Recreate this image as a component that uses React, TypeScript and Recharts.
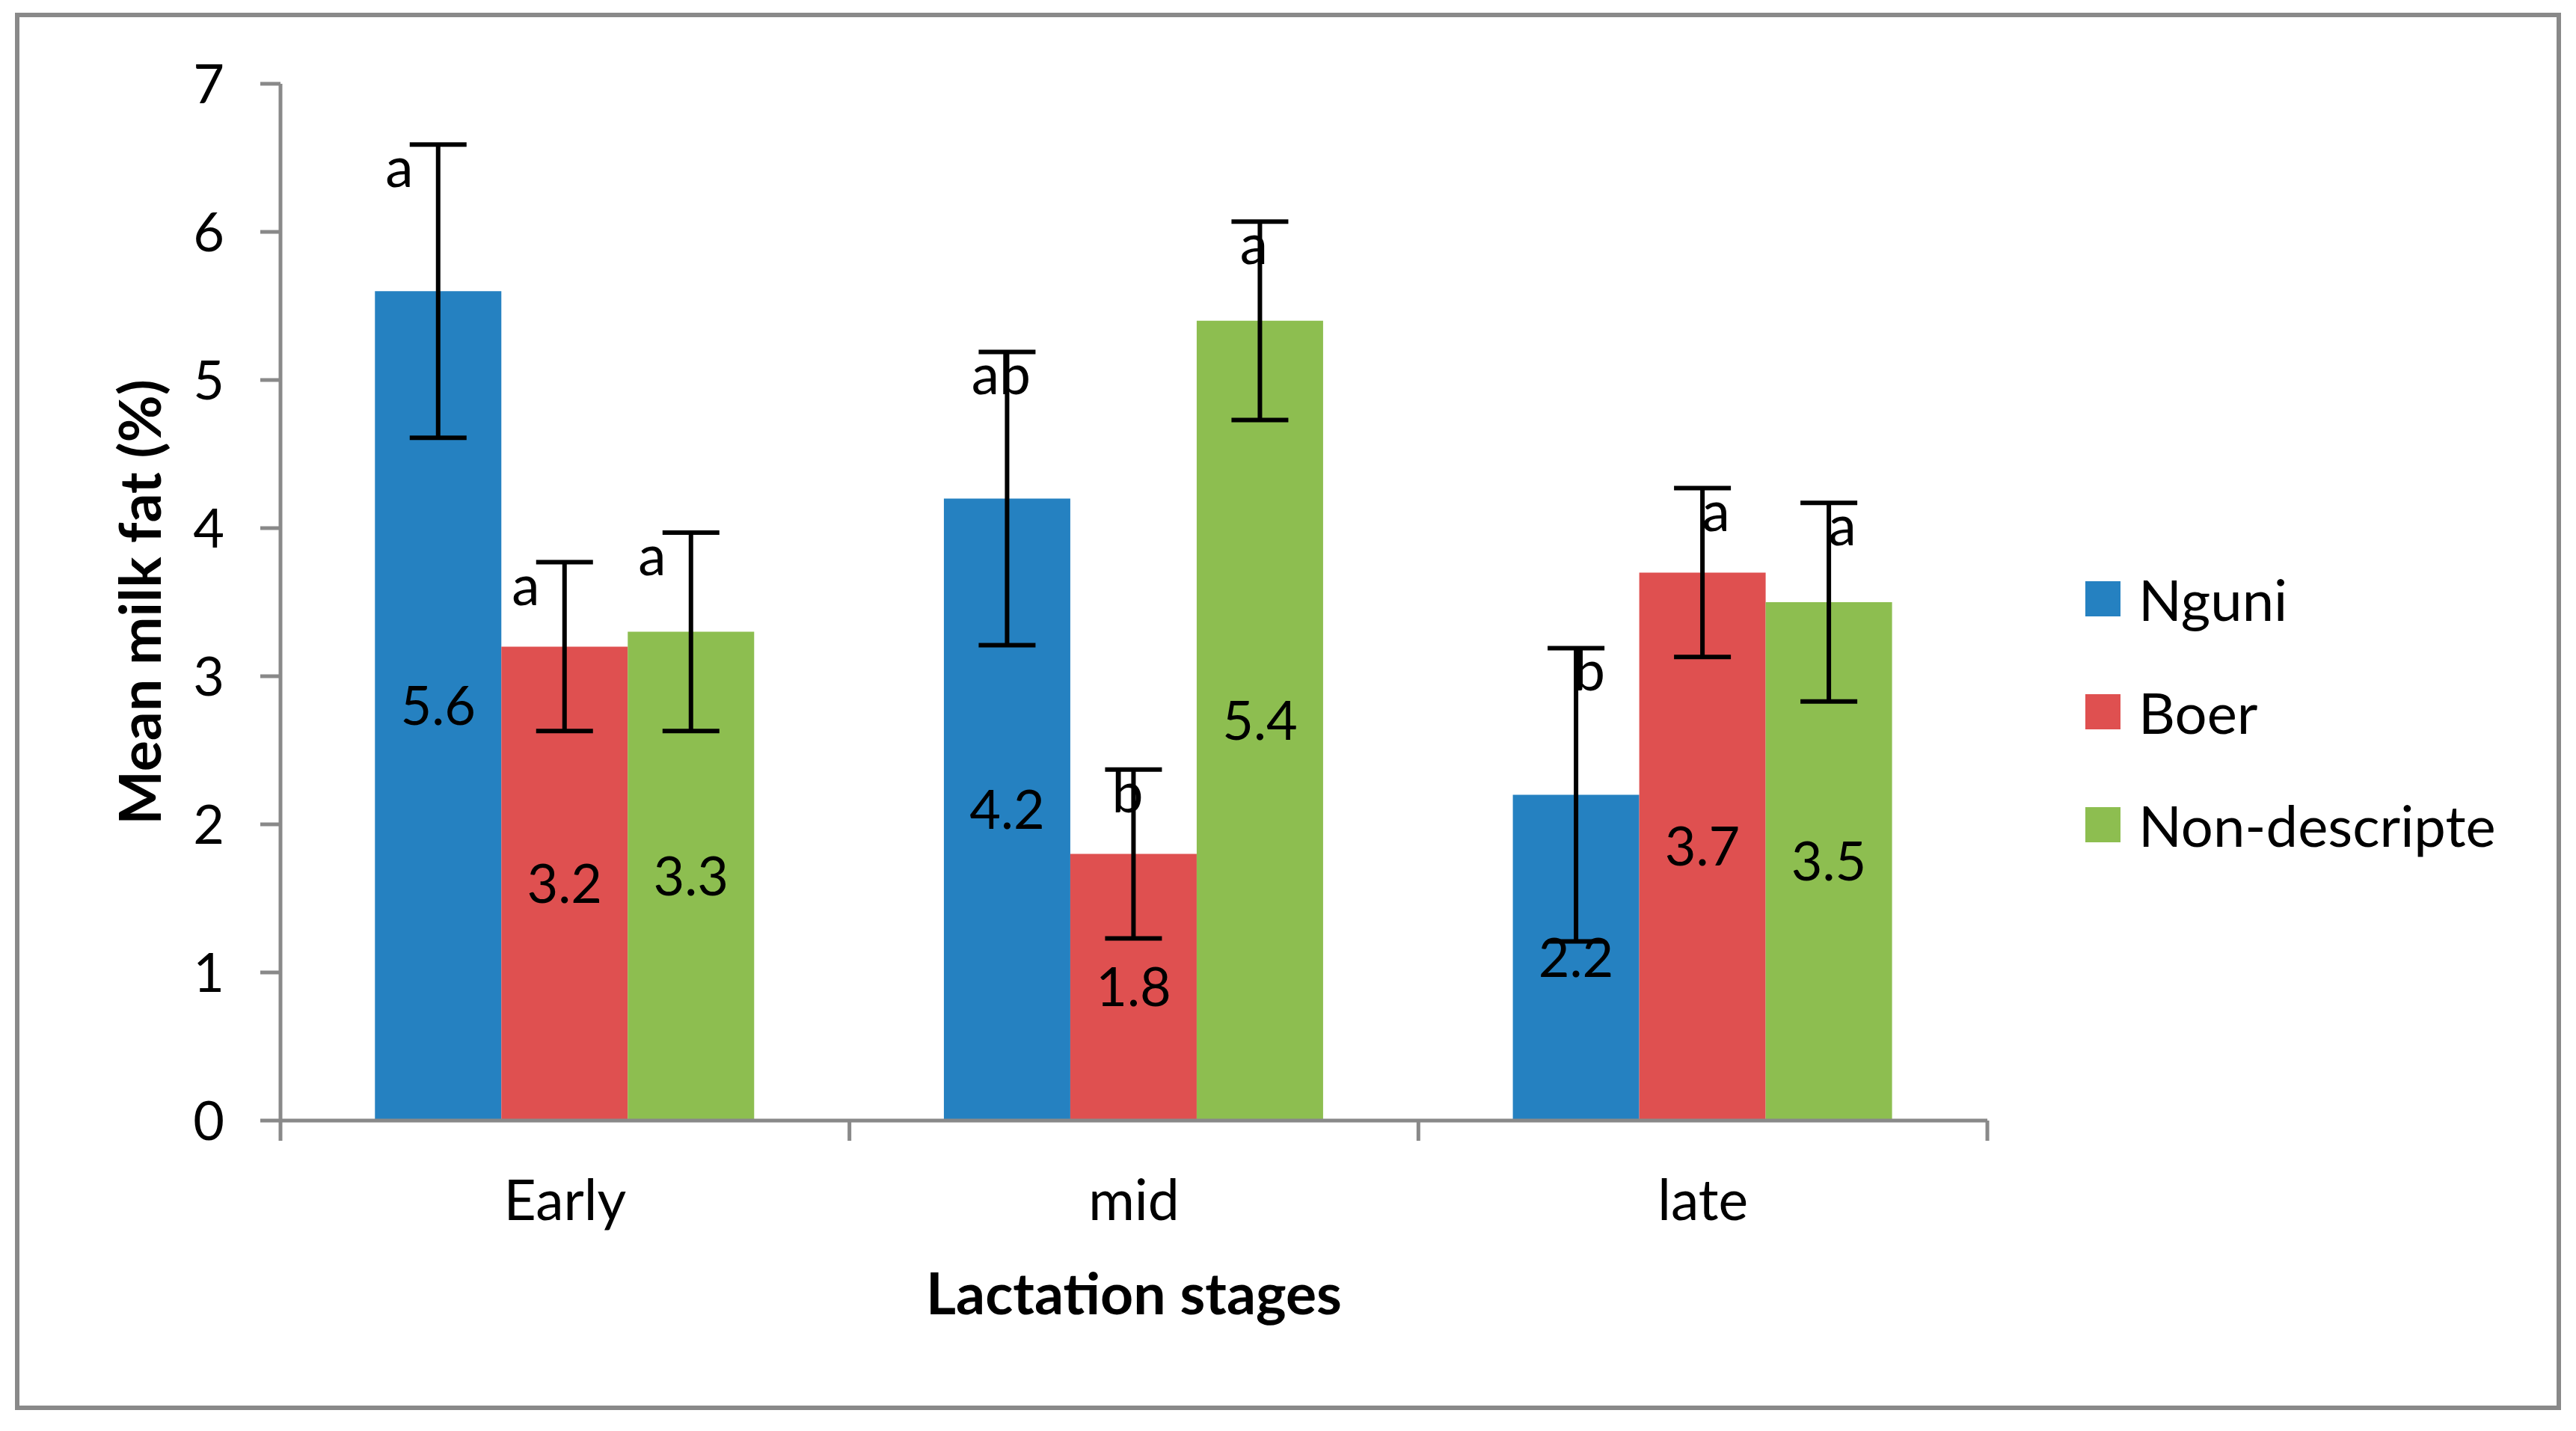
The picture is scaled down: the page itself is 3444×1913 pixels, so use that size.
import React from "react";
import { BarChart, Bar, XAxis, YAxis, ErrorBar, LabelList, Legend } from "recharts";

const STAGES = ["Early", "mid", "late"];
const BREEDS = ["Nguni", "Boer", "Non-descripte"];
const NGUNI = [5.6, 4.2, 2.2];
const BOER = [3.2, 1.8, 3.7];
const NONDESC = [3.3, 5.4, 3.5];
const NGUNI_ERR = [0.99, 0.99, 0.99];
const BOER_ERR = [0.57, 0.57, 0.57];
const NONDESC_ERR = [0.67, 0.67, 0.67];
const NGUNI_SIG = ["a", "ab", "b"];
const BOER_SIG = ["a", "b", "a"];
const NONDESC_SIG = ["a", "a", "a"];
const Y_TICKS = [0, 1, 2, 3, 4, 5, 6, 7];

const W = 3444;
const H = 1913;
const PLOT_LEFT = 375;
const PLOT_RIGHT = 2657;
const BAND = (PLOT_RIGHT - PLOT_LEFT) / STAGES.length;
const FONT = "Lato, Carlito, Calibri, sans-serif";
const AXIS = "#898989";
const COLORS = { nguni: "#2581c1", boer: "#df5050", nondesc: "#8dbe50" };
// letters sit a little off the bar centre, shifted per stage like in the original
const SIG_SHIFT = [-52, -8, 18];

const data = STAGES.map((stage, i) => ({
  stage,
  nguni: NGUNI[i],
  nguniErr: NGUNI_ERR[i],
  nguniSig: NGUNI_SIG[i],
  boer: BOER[i],
  boerErr: BOER_ERR[i],
  boerSig: BOER_SIG[i],
  nondesc: NONDESC[i],
  nondescErr: NONDESC_ERR[i],
  nondescSig: NONDESC_SIG[i],
}));

const StageTick = (props: any) => {
  const { x, y, payload, index } = props;
  const half = BAND / 2;
  return (
    <g>
      <line x1={x - half} x2={x - half} y1={y} y2={y + 27} stroke={AXIS} strokeWidth={5} />
      {index === STAGES.length - 1 && (
        <line x1={x + half} x2={x + half} y1={y} y2={y + 27} stroke={AXIS} strokeWidth={5} />
      )}
      <text x={x} y={y + 106} textAnchor="middle" dy="0.36em" fontSize={75} fontFamily={FONT} fill="#000">
        {payload.value}
      </text>
    </g>
  );
};

const YTitle = (props: any) => {
  const vb = props.viewBox || {};
  const x = vb.x + 12;
  const y = vb.y + vb.height / 2;
  return (
    <text x={x} y={y} transform={`rotate(-90, ${x}, ${y})`} textAnchor="middle" dy="0.36em"
      fontSize={77} fontWeight={700} fontFamily={FONT} fill="#000">
      Mean milk fat (%)
    </text>
  );
};

const SigLabel = (props: any) => {
  const { viewBox, value, index, vals, errs } = props;
  if (!viewBox || value == null) return null;
  const { x, y, width, height } = viewBox;
  const unit = height / vals[index];
  const errTop = y - errs[index] * unit;
  return (
    <text x={x + width / 2 + SIG_SHIFT[index]} y={errTop + 30} textAnchor="middle" dy="0.36em"
      fontSize={75} fontFamily={FONT} fill="#000">
      {value}
    </text>
  );
};

const LegendBox = (props: any) => {
  const items = [...(props.payload || [])].sort(
    (a: any, b: any) => BREEDS.indexOf(a.value) - BREEDS.indexOf(b.value)
  );
  return (
    <div style={{ fontFamily: FONT }}>
      {items.map((it: any) => (
        <div key={it.value} style={{ height: 151, display: "flex", alignItems: "center" }}>
          <div style={{ width: 47, height: 47, background: it.color, marginRight: 24 }} />
          <span style={{ fontSize: 76, color: "#000" }}>{it.value}</span>
        </div>
      ))}
    </div>
  );
};

export default function App() {
  const valueLabel = { fill: "#000", fontSize: 72, fontFamily: FONT };
  return (
    <div style={{ position: "absolute", left: 0, top: 0, width: W, height: H, background: "#fff" }}>
      <div style={{
        position: "absolute", left: 20, top: 17, width: 3404, height: 1868,
        border: `6px solid ${AXIS}`, boxSizing: "border-box", pointerEvents: "none",
      }} />
      <div style={{ position: "absolute", left: 0, top: 0 }}>
        <BarChart width={W} height={H} data={data}
          margin={{ top: 112, right: W - PLOT_RIGHT, bottom: 115, left: 175 }}
          barCategoryGap="16.6%" barGap={0}>
          <XAxis dataKey="stage" height={300} interval={0} tickLine={false} tickSize={0} tickMargin={0}
            axisLine={{ stroke: AXIS, strokeWidth: 5 }} tick={<StageTick />}
            label={{ value: "Lactation stages", position: "insideTop", offset: 204, fill: "#000",
              fontSize: 77, fontWeight: 700, fontFamily: FONT }} />
          <YAxis type="number" domain={[0, 7]} ticks={Y_TICKS} width={200} interval={0}
            axisLine={{ stroke: AXIS, strokeWidth: 5 }} tickLine={{ stroke: AXIS, strokeWidth: 5 }}
            tickSize={27} tickMargin={48} tick={{ fill: "#000", fontSize: 72, fontFamily: FONT }}
            label={<YTitle />} />
          <Legend layout="vertical" align="center" verticalAlign="middle"
            wrapperStyle={{ left: 2788, top: 725, width: 640 }} content={<LegendBox />} />
          <Bar dataKey="nguni" name="Nguni" fill={COLORS.nguni} isAnimationActive={false}>
            <ErrorBar dataKey="nguniErr" direction="y" width={38} strokeWidth={6} stroke="#000" />
            <LabelList dataKey="nguni" position="center" {...valueLabel} />
            <LabelList dataKey="nguniSig" content={<SigLabel vals={NGUNI} errs={NGUNI_ERR} />} />
          </Bar>
          <Bar dataKey="boer" name="Boer" fill={COLORS.boer} isAnimationActive={false}>
            <ErrorBar dataKey="boerErr" direction="y" width={38} strokeWidth={6} stroke="#000" />
            <LabelList dataKey="boer" position="center" {...valueLabel} />
            <LabelList dataKey="boerSig" content={<SigLabel vals={BOER} errs={BOER_ERR} />} />
          </Bar>
          <Bar dataKey="nondesc" name="Non-descripte" fill={COLORS.nondesc} isAnimationActive={false}>
            <ErrorBar dataKey="nondescErr" direction="y" width={38} strokeWidth={6} stroke="#000" />
            <LabelList dataKey="nondesc" position="center" {...valueLabel} />
            <LabelList dataKey="nondescSig" content={<SigLabel vals={NONDESC} errs={NONDESC_ERR} />} />
          </Bar>
        </BarChart>
      </div>
    </div>
  );
}
